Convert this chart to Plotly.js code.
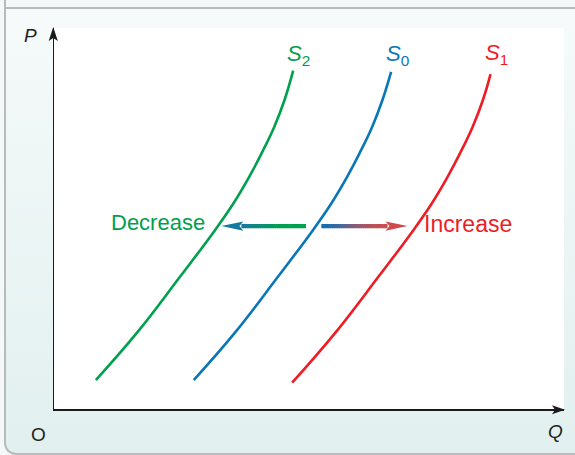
<!DOCTYPE html>
<html>
<head>
<meta charset="utf-8">
<script src="https://cdn.plot.ly/plotly-3.0.1.min.js"></script>
<style>
html,body{margin:0;padding:0;background:#f4f8f8;}
#wrap{position:relative;width:575px;height:455px;overflow:hidden;background:#f4f8f8;}
#edge{position:absolute;left:4px;top:0;width:2px;height:9px;background:#b9bbbb;}
#panel{position:absolute;left:4px;top:7px;width:620px;height:444px;border-left:2px solid #b9bbbb;border-top:2px solid #b9bbbb;border-bottom:2px solid #b9bbbb;border-bottom-left-radius:12px;background:linear-gradient(#f6fafa,#e1f0ef);}
#chart{position:absolute;left:0;top:0;width:575px;height:455px;}
</style>
</head>
<body>
<div id="wrap">
  <div id="edge"></div>
  <div id="panel"></div>
  <div id="chart"></div>
</div>
<script>
// ---- data (price P, quantity Q) ----
const priceS2 = [0.76, 1.99, 3.47, 4.70, 5.40, 6.10, 6.71, 7.41, 8.11, 8.88];
const qtyS2   = [0.82, 1.62, 2.47, 3.16, 3.52, 3.83, 4.07, 4.32, 4.52, 4.69];
const priceS0 = [0.76, 1.99, 3.47, 4.70, 5.40, 6.10, 6.71, 7.41, 8.11, 8.85];
const qtyS0   = [2.74, 3.54, 4.39, 5.08, 5.44, 5.75, 5.99, 6.24, 6.44, 6.61];
const priceS1 = [0.69, 1.99, 3.47, 4.70, 5.40, 6.10, 6.71, 7.41, 8.11, 8.79];
const qtyS1   = [4.67, 5.51, 6.36, 7.05, 7.41, 7.72, 7.96, 8.21, 8.41, 8.56];
const curveSubs = ['2', '0', '1'];
const labelDecrease = 'Decrease';
const labelIncrease = 'Increase';
const axisLabelP = 'P', axisLabelQ = 'Q', originLabel = 'O';
const shiftPrice = 4.80; // price level at which the shift arrows are drawn

// ---- styles ----
const colS2 = '#00a04f', colS0 = '#0a76b8', colS1 = '#ee1d25';
const font = 'Liberation Sans, Arial, Helvetica, sans-serif';
const inkCol = '#231f20';

function hexToRgb(h){h=h.replace('#','');return [parseInt(h.slice(0,2),16),parseInt(h.slice(2,4),16),parseInt(h.slice(4,6),16)];}
function colorAt(stops,t){
  for(let i=0;i<stops.length-1;i++){
    const [t0,c0]=stops[i],[t1,c1]=stops[i+1];
    if(t<=t1){const f=(t-t0)/(t1-t0||1);const a=hexToRgb(c0),b=hexToRgb(c1);
      return 'rgb('+a.map((v,k)=>Math.round(v+(b[k]-v)*f)).join(',')+')';}
  }
  return stops[stops.length-1][1];
}
// locate a curve's quantity at a given price (for placing arrows/labels)
function qAt(q,p,price){
  for(let i=0;i<p.length-1;i++){
    if(price>=p[i] && price<=p[i+1]) return q[i]+(q[i+1]-q[i])*(price-p[i])/(p[i+1]-p[i]);
  }
  return q[q.length-1];
}

function curve(q,p,c){
  return {x:q,y:p,type:'scatter',mode:'lines',line:{color:c,width:2.6,shape:'spline',smoothing:1.2},
          hoverinfo:'skip',showlegend:false,cliponaxis:false};
}

const traces = [curve(qtyS2,priceS2,colS2), curve(qtyS0,priceS0,colS0), curve(qtyS1,priceS1,colS1)];

// plot geometry
const L=54, R=11, T=28, B=46, Wd=575, Ht=455;
const xr=[0,10], yr=[0,10];
const pxPerX = (Wd-L-R)/(xr[1]-xr[0]);

const shapes = [];
function gradientArrow(x0, x1, y, stops, headCol){
  const dir = Math.sign(x1-x0);
  const headLenPx = 22, shaftEndPx = 20;
  const xEnd = x1 - dir*shaftEndPx/pxPerX;
  const N = 30;
  for(let i=0;i<N;i++){
    const a = x0 + (xEnd-x0)*i/N, b = x0 + (xEnd-x0)*Math.min(1,(i+1.3)/N);
    shapes.push({type:'line',xref:'x',yref:'y',x0:a,x1:b,y0:y,y1:y,
      line:{color:colorAt(stops,(i+0.5)/N),width:4.2},layer:'above'});
  }
  const s = -dir;
  shapes.push({type:'path',xref:'x',yref:'y',xsizemode:'pixel',ysizemode:'pixel',xanchor:x1,yanchor:y,
    path:`M0,0 L${s*headLenPx},4.6 L${s*(headLenPx-4)},0 L${s*headLenPx},-4.6 Z`,
    fillcolor:headCol,line:{width:0},layer:'above'});
}
const q2 = qAt(qtyS2,priceS2,shiftPrice), q0 = qAt(qtyS0,priceS0,shiftPrice), q1 = qAt(qtyS1,priceS1,shiftPrice);
gradientArrow(q0-0.19, q2+0.07, shiftPrice,
  [[0,'#00a04e'],[0.4,'#00a04e'],[1,'#1479a0']], '#1479a0');
gradientArrow(q0+0.11, q1-0.17, shiftPrice,
  [[0,'#0b6fb2'],[0.25,'#3a6aa2'],[0.62,'#a65668'],[1,'#d04a4a']], '#cf4a4a');

// axis arrow heads
shapes.push({type:'path',xref:'paper',yref:'paper',xsizemode:'pixel',ysizemode:'pixel',xanchor:1,yanchor:0,
  path:'M1,-0.75 L-12,3.8 L-9,-0.75 L-12,-5.3 Z',fillcolor:'#1a1a1a',line:{width:0}});
shapes.push({type:'path',xref:'paper',yref:'paper',xsizemode:'pixel',ysizemode:'pixel',xanchor:0,yanchor:1,
  path:'M-0.75,1 L3.8,-13 L-0.75,-10 L-5.3,-13 Z',fillcolor:'#1a1a1a',line:{width:0}});

const n = priceS2.length-1;
function sLabel(sub,x,y,col){
  return {text:'<i>S</i><sub>'+sub+'</sub>',xref:'x',yref:'y',x:x,y:y,xanchor:'center',yanchor:'middle',
          showarrow:false,font:{family:font,size:22,color:col}};
}
const annotations = [
  {text:labelDecrease,xref:'x',yref:'y',x:q2-0.22,y:shiftPrice+0.09,xanchor:'right',yanchor:'middle',
   showarrow:false,font:{family:font,size:22,color:colS2}},
  {text:labelIncrease,xref:'x',yref:'y',x:q1+0.12,y:shiftPrice+0.05,xanchor:'left',yanchor:'middle',
   showarrow:false,font:{family:font,size:23,color:colS1}},
  sLabel(curveSubs[0], qtyS2[n]+0.11, priceS2[n]+0.40, colS2),
  sLabel(curveSubs[1], qtyS0[n]+0.13, priceS0[n]+0.43, colS0),
  sLabel(curveSubs[2], qtyS1[n]+0.12, priceS1[n]+0.52, colS1),
  {text:'<i>'+axisLabelP+'</i>',xref:'paper',yref:'paper',x:-0.046,y:0.98,xanchor:'center',yanchor:'middle',
   showarrow:false,font:{family:font,size:19,color:inkCol}},
  {text:originLabel,xref:'paper',yref:'paper',x:-0.030,y:-0.068,xanchor:'center',yanchor:'middle',
   showarrow:false,font:{family:font,size:19,color:inkCol}},
  {text:'<i>'+axisLabelQ+'</i>',xref:'paper',yref:'paper',x:0.984,y:-0.06,xanchor:'center',yanchor:'middle',
   showarrow:false,font:{family:font,size:19,color:inkCol}}
];

const layout = {
  width:Wd,height:Ht,margin:{l:L,r:R,t:T,b:B,pad:0},
  paper_bgcolor:'rgba(0,0,0,0)',plot_bgcolor:'#ffffff',
  showlegend:false,
  xaxis:{range:xr,showgrid:false,zeroline:false,showticklabels:false,ticks:'',
         showline:true,linecolor:'#1a1a1a',linewidth:1.5,fixedrange:true},
  yaxis:{range:yr,showgrid:false,zeroline:false,showticklabels:false,ticks:'',
         showline:true,linecolor:'#1a1a1a',linewidth:1.5,fixedrange:true},
  shapes:shapes,annotations:annotations
};
Plotly.newPlot('chart',traces,layout,{displayModeBar:false,staticPlot:true});
</script>
</body>
</html>
